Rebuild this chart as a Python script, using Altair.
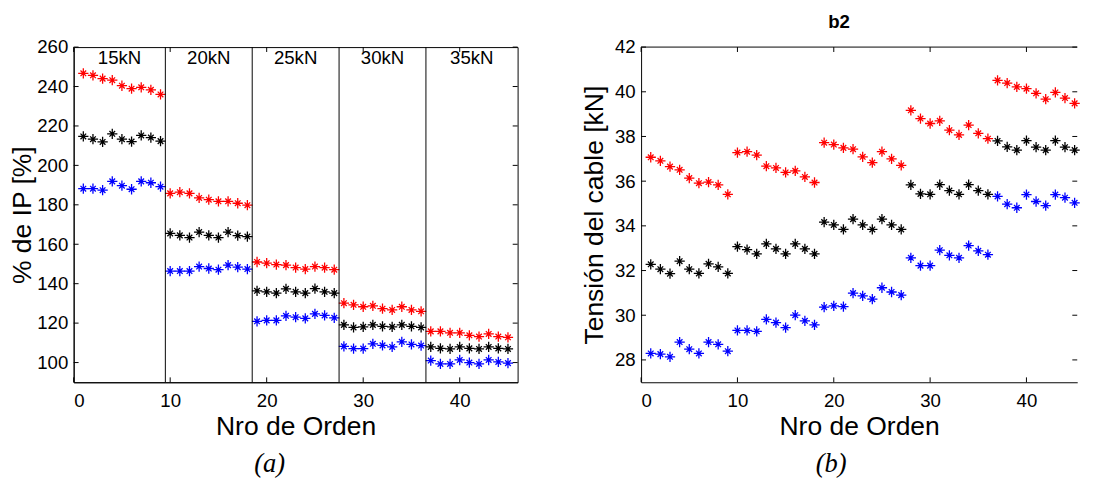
import altair as alt
import pandas as pd

# ---------------- data ----------------
orden = list(range(1, 46))
series = ["rojo", "negro", "azul"]
colores = ["#ff0000", "#000000", "#0000ff"]

# panel (a): % de IP
ip_rojo = [246.7, 245.7, 244.0, 243.2, 240.4, 238.9, 239.6, 238.3, 236.0,
           185.8, 186.4, 185.8, 183.5, 182.6, 181.8, 181.8, 180.8, 179.8,
           151.0, 150.4, 149.7, 149.4, 148.2, 147.4, 148.7, 148.1, 147.1,
           130.1, 129.3, 128.3, 128.8, 127.3, 126.7, 128.3, 126.7, 126.0,
           115.8, 115.8, 115.1, 115.1, 113.8, 113.2, 114.5, 113.2, 112.8]
ip_negro = [214.7, 213.3, 211.9, 216.0, 213.3, 212.1, 215.2, 214.1, 212.3,
            165.5, 164.5, 163.4, 166.2, 164.5, 163.4, 166.2, 164.4, 163.9,
            136.4, 135.9, 135.2, 137.4, 135.9, 135.2, 137.5, 135.9, 135.2,
            119.1, 117.8, 118.1, 119.1, 118.4, 118.1, 119.1, 118.4, 117.8,
            107.9, 107.2, 106.9, 107.9, 107.2, 106.9, 107.9, 107.2, 106.9]
ip_azul = [188.2, 188.2, 187.4, 191.9, 189.7, 187.9, 191.9, 191.2, 189.2,
           146.4, 146.4, 146.4, 148.7, 147.7, 147.1, 149.4, 148.4, 147.4,
           120.9, 121.4, 121.4, 123.7, 123.0, 122.4, 124.7, 123.9, 122.7,
           108.2, 107.1, 107.1, 109.5, 108.7, 107.9, 110.5, 109.2, 108.6,
           101.0, 99.3, 99.3, 101.3, 100.0, 99.3, 101.3, 100.3, 99.7]

# panel (b): Tension del cable
t_rojo = [37.07, 36.91, 36.65, 36.51, 36.14, 35.91, 35.96, 35.83, 35.41,
          37.28, 37.32, 37.17, 36.67, 36.59, 36.39, 36.46, 36.19, 35.94,
          37.72, 37.64, 37.49, 37.43, 37.09, 36.83, 37.32, 37.00, 36.71,
          39.17, 38.80, 38.58, 38.70, 38.28, 38.07, 38.51, 38.14, 37.90,
          40.51, 40.39, 40.22, 40.14, 39.93, 39.67, 39.97, 39.72, 39.48]
t_negro = [32.28, 32.06, 31.86, 32.42, 32.06, 31.87, 32.30, 32.16, 31.87,
           33.07, 32.94, 32.75, 33.19, 32.97, 32.75, 33.19, 32.97, 32.75,
           34.17, 34.04, 33.84, 34.30, 34.04, 33.84, 34.30, 34.04, 33.84,
           35.83, 35.43, 35.41, 35.84, 35.58, 35.41, 35.84, 35.58, 35.41,
           37.80, 37.53, 37.39, 37.81, 37.52, 37.39, 37.81, 37.52, 37.39]
t_azul = [28.29, 28.26, 28.14, 28.80, 28.48, 28.29, 28.80, 28.70, 28.39,
          29.32, 29.32, 29.28, 29.81, 29.67, 29.45, 30.00, 29.75, 29.57,
          30.36, 30.42, 30.39, 30.99, 30.87, 30.72, 31.23, 31.04, 30.90,
          32.57, 32.22, 32.22, 32.91, 32.68, 32.57, 33.12, 32.88, 32.71,
          35.32, 34.97, 34.81, 35.40, 35.09, 34.91, 35.40, 35.26, 35.03]

limites = [9.5, 18.5, 27.5, 36.5]
etiquetas = ["15kN", "20kN", "25kN", "30kN", "35kN"]
centros = [4.75, 14.0, 23.0, 32.0, 41.25]

x_ticks = [0, 10, 20, 30, 40]
ip_ticks = [100, 120, 140, 160, 180, 200, 220, 240, 260]
t_ticks = [28, 30, 32, 34, 36, 38, 40, 42]
titulos = [" ", "b2"]
subtitulos = ["(a)", "(b)"]

# ---------------- layout ----------------
FONT = "Liberation Sans"
H = 342
W1 = 453
W2 = 445
TICK = 5
STAR = "M-1,0L1,0M0,-1L0,1M-0.55,-0.55L0.55,0.55M-0.55,0.55L0.55,-0.55"


def long_df(vals_list):
    rows = []
    for name, vals in zip(series, vals_list):
        for o, v in zip(orden, vals):
            rows.append({"orden": o, "valor": v, "serie": name})
    return pd.DataFrame(rows)


def panel(df, xdom, ydom, yticks, ytitle, ytpad, W, title_text, titx, sub, subx,
          with_sections=False, full_box=True):
    xs = alt.Scale(domain=xdom, nice=False, zero=False)
    ys = alt.Scale(domain=ydom, nice=False, zero=False)
    xax = alt.Axis(values=x_ticks, ticks=False, grid=False, labelPadding=10,
                   title="Nro de Orden", titlePadding=3)
    yax = alt.Axis(values=yticks, ticks=False, grid=False, labelPadding=6,
                   title=ytitle, titlePadding=ytpad)

    pts = alt.Chart(df).mark_point(shape=STAR, filled=False, size=110,
                                   strokeWidth=1.3, opacity=1).encode(
        x=alt.X("orden:Q", scale=xs, axis=xax),
        y=alt.Y("valor:Q", scale=ys, axis=yax),
        color=alt.Color("serie:N", scale=alt.Scale(domain=series, range=colores),
                        legend=None),
    )

    xt = pd.DataFrame({"t": x_ticks})
    yt = pd.DataFrame({"t": yticks})
    bx = alt.X("t:Q", scale=xs, axis=xax)
    by = alt.Y("t:Q", scale=ys, axis=yax)
    layers = []
    if with_sections:
        sep = alt.Chart(pd.DataFrame({"b": limites})).mark_rule(
            color="black", strokeWidth=1).encode(x=alt.X("b:Q", scale=xs, axis=xax))
        lab = alt.Chart(pd.DataFrame({"c": centros, "e": etiquetas})).mark_text(
            font=FONT, fontSize=19, color="black", baseline="middle", align="center"
        ).encode(x=alt.X("c:Q", scale=xs, axis=xax), y=alt.value(11), text="e:N")
        layers += [sep, lab]

    tb = alt.Chart(xt).mark_rule(color="black").encode(x=bx, y=alt.value(H), y2=alt.value(H - TICK))
    tt = alt.Chart(xt).mark_rule(color="black").encode(x=bx, y=alt.value(0), y2=alt.value(TICK))
    tl = alt.Chart(yt).mark_rule(color="black").encode(y=by, x=alt.value(0), x2=alt.value(TICK))
    tr = alt.Chart(yt).mark_rule(color="black").encode(y=by, x=alt.value(W - TICK), x2=alt.value(W))
    layers += [tb, tt, tl, tr]

    if not full_box:
        top = alt.Chart(pd.DataFrame({"z": [0]})).mark_rule(color="black").encode(
            x=alt.value(0), x2=alt.value(W), y=alt.value(0))
        layers.append(top)

    tit = alt.Chart(pd.DataFrame({"s": [title_text]})).mark_text(
        font=FONT, fontSize=19, fontWeight="bold", color="black",
        align="center", baseline="middle"
    ).encode(text="s:N", x=alt.value(titx), y=alt.value(-25))
    st = alt.Chart(pd.DataFrame({"s": [sub]})).mark_text(
        font="Liberation Serif", fontStyle="italic", fontSize=27, color="black",
        align="center", baseline="middle"
    ).encode(text="s:N", x=alt.value(subx), y=alt.value(H + 84))
    layers += [tit, st]

    ch = alt.layer(pts, *layers).properties(width=W, height=H)
    if not full_box:
        ch = ch.properties(view=alt.ViewBackground(stroke="transparent"))
    return ch


left = panel(long_df([ip_rojo, ip_negro, ip_azul]), [0, 46], [90, 260], ip_ticks,
             "% de IP [%]", 0, W1, titulos[0], 226, subtitulos[0], 200,
             with_sections=True)
right = panel(long_df([t_rojo, t_negro, t_azul]), [0, 45.27], [27, 42], t_ticks,
              "Tensión del cable [kN]", 6, W2, titulos[1], 202, subtitulos[1], 194,
              full_box=False)

chart = alt.hconcat(left, right, spacing=63).configure_view(
    stroke="black", strokeWidth=1
).configure_axis(
    domainColor="black", domainWidth=1, labelColor="black", titleColor="black",
    labelFont=FONT, titleFont=FONT, labelFontSize=19, titleFontSize=27,
    titleFontWeight="normal"
).properties(
    background="white",
    padding={"left": 0, "top": 0, "right": 5, "bottom": 5},
)

chart.save("out.html", embed_options={"renderer": "svg", "actions": False})
